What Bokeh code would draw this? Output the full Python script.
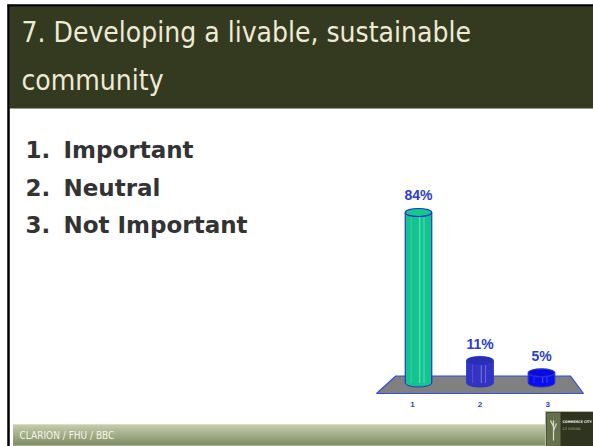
from bokeh.plotting import figure
from bokeh.models import Range1d
from bokeh.core.properties import value
from bokeh.embed import file_html
from bokeh.resources import INLINE

# ---- data ----
title_lines = ["7.  Developing a livable, sustainable", "community"]
option_numbers = ["1.", "2.", "3."]
option_labels = ["Important", "Neutral", "Not Important"]
categories = ["1", "2", "3"]
percents = [84, 11, 5]
bar_colors = ["#12c490", "#3434c4", "#0c0cf0"]
top_colors = ["#14c890", "#2c2cb4", "#0a0ae0"]
highlight_colors = ["#8ee8c8", "#8a8ae6", "#6a6af8"]
footer_text = "CLARION / FHU / BBC"
logo_lines = ["COMMERCE CITY", "C3 VISION"]

W, H = 593, 446
p = figure(width=W, height=H, x_range=Range1d(0, W), y_range=Range1d(H, 0),
           output_backend="svg", toolbar_location=None, min_border=0,
           x_axis_location=None, y_axis_location=None)
p.grid.visible = False
p.outline_line_color = None
p.background_fill_color = "white"
p.border_fill_color = "white"

# scales for the chart part
cat_px = 61.5      # pixels per category step
val_px = 2.03      # pixels per percent
cat_start = 1 - 418 / cat_px
val_start = -(H - 382.5) / val_px
p.extra_x_ranges = {"cat": Range1d(cat_start, cat_start + W / cat_px)}
p.extra_y_ranges = {"val": Range1d(val_start, val_start + H / val_px)}

# ---- slide frame ----
p.quad(left=[9], right=[W], top=[6], bottom=[108], fill_color="#333a1f", line_color=None)
p.segment(x0=[8, 7], y0=[4, 5], x1=[8, W], y1=[H, 5], line_color="black", line_width=2.5)
p.text(x=[21, 21], y=[32, 80], text=title_lines, text_font=value("DejaVu Sans Condensed"),
       text_font_size="28px", text_color="#efead6", text_baseline="alphabetic")

# bullet list
list_y = [149, 187, 224]
p.text(x=[25] * 3, y=list_y, text=option_numbers, text_font=value("DejaVu Sans"),
       text_font_style="bold", text_font_size="23px", text_color="#333333",
       text_baseline="alphabetic")
p.text(x=[63] * 3, y=list_y, text=option_labels, text_font=value("DejaVu Sans"),
       text_font_style="bold", text_font_size="23px", text_color="#333333",
       text_baseline="alphabetic")

# ---- chart ----
n = len(categories)
xs = [i + 1 for i in range(n)]
bw = 26.5 / cat_px

# floor
p.patch(x=[0.317, n + 0.683, n + 0.472, 0.626], y=[393, 393, 375.7, 375.7],
        fill_color="#808080", line_color="#3050d8", line_width=1.2, x_range_name="cat")

# bottom ellipses
p.ellipse(x=xs, y=[0] * n, width=bw * cat_px, height=8, width_units="screen", height_units="screen",
          fill_color=bar_colors, line_color="#2038c8", line_width=1,
          x_range_name="cat", y_range_name="val")
# bodies
p.vbar(x=xs, width=bw, bottom=0, top=percents, fill_color=bar_colors, line_color=None,
       x_range_name="cat", y_range_name="val")
# highlights
for off, alpha in [(0.02, 0.8), (0.09, 0.6), (-0.12, 0.35)]:
    p.segment(x0=[x + off for x in xs], y0=[0] * n, x1=[x + off for x in xs], y1=percents,
              line_color=highlight_colors, line_alpha=alpha, line_width=1,
              x_range_name="cat", y_range_name="val")
# sides
p.segment(x0=[x - bw / 2 for x in xs], y0=[0] * n, x1=[x - bw / 2 for x in xs], y1=percents,
          line_color="#2038c8", line_width=1.2, x_range_name="cat", y_range_name="val")
p.segment(x0=[x + bw / 2 for x in xs], y0=[0] * n, x1=[x + bw / 2 for x in xs], y1=percents,
          line_color="#2038c8", line_width=1.2, x_range_name="cat", y_range_name="val")
# top ellipses
p.ellipse(x=xs, y=percents, width=bw * cat_px, height=8, width_units="screen", height_units="screen",
          fill_color=top_colors, line_color="#2038c8", line_width=1.2,
          x_range_name="cat", y_range_name="val")
# value labels
p.text(x=xs, y=[v + 8.4 for v in percents], text=[f"{v}%" for v in percents],
       text_font=value("Liberation Sans"), text_font_style="bold", text_font_size="14px",
       text_color="#2b3dcc", text_align="center", text_baseline="alphabetic",
       x_range_name="cat", y_range_name="val")
# category labels
p.text(x=[x + (x - 2) * 0.1 for x in xs], y=[404] * n, text=categories,
       text_font=value("Liberation Sans"), text_font_style="bold", text_font_size="8px",
       text_color="#2b3dcc", text_align="center", text_baseline="middle",
       x_range_name="cat")

# ---- footer ----
top_c = (176, 187, 144)
bot_c = (88, 104, 52)
steps = 21
for i in range(steps):
    t = i / (steps - 1)
    c = tuple(int(round(top_c[k] + (bot_c[k] - top_c[k]) * t)) for k in range(3))
    p.quad(left=[12.5], right=[545], top=[424 + i], bottom=[425 + i],
           fill_color="#%02x%02x%02x" % c, line_color=None)
p.text(x=[19], y=[435], text=[footer_text], text_font=value("DejaVu Sans Condensed"),
       text_font_size="10px", text_color="#f6f4ea", text_baseline="middle")

# logo
p.quad(left=[545], right=[W], top=[411], bottom=[H], fill_color="#2f3421",
       line_color="#b9bca2", line_width=1)
p.quad(left=[546], right=[560], top=[412], bottom=[H], fill_color="#66714c", line_color=None)
p.segment(x0=[553, 553, 553], y0=[440, 426, 430], x1=[553, 550, 556], y1=[420, 420, 423],
          line_color="#d8dcc4", line_width=1.2)
p.text(x=[562, 562], y=[421, 428], text=logo_lines, text_font=value("DejaVu Sans Condensed"),
       text_font_style="bold", text_font_size="3.5px", text_color=["#eeeeee", "#7d8066"],
       text_baseline="middle")

open("out.html", "w").write(file_html(p, INLINE))
